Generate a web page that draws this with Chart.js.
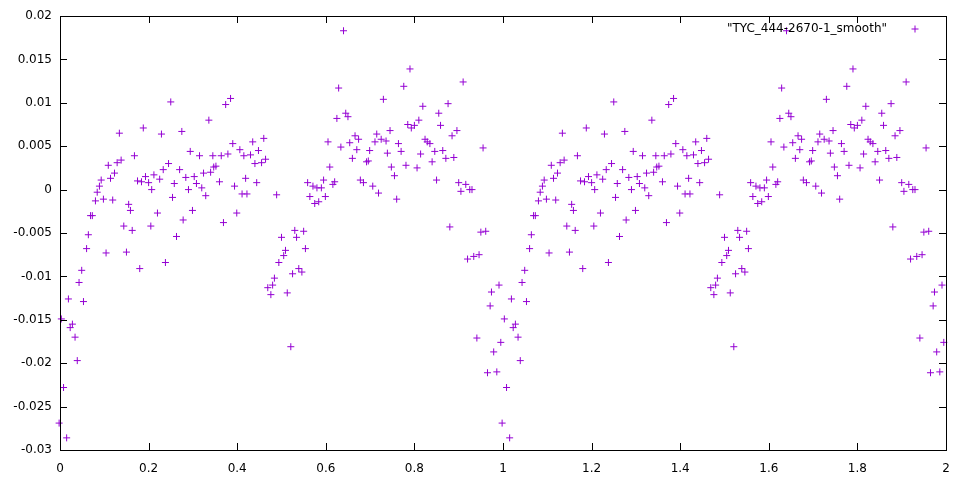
<!DOCTYPE html>
<html>
<head>
<meta charset="utf-8">
<script src="https://cdn.jsdelivr.net/npm/chart.js@4.4.1/dist/chart.umd.min.js"></script>
<style>
  body { margin: 0; background: #fff; }
</style>
</head>
<body>
<canvas id="lightCurve" width="967" height="480"></canvas>
<script>
// phase (0..1) of each observation and its smoothed value
const phases = [
  -0.002, 0.003, 0.008, 0.015, 0.019, 0.023, 0.028, 0.034, 0.039, 0.043,
  0.049, 0.053, 0.060, 0.064, 0.069, 0.073, 0.080, 0.084, 0.089, 0.093,
  0.098, 0.104, 0.109, 0.114, 0.119, 0.123, 0.129, 0.134, 0.138, 0.144,
  0.150, 0.155, 0.159, 0.163, 0.168, 0.175, 0.180, 0.184, 0.188, 0.193,
  0.200, 0.205, 0.207, 0.212, 0.220, 0.225, 0.229, 0.233, 0.238, 0.245,
  0.250, 0.254, 0.258, 0.263, 0.270, 0.275, 0.278, 0.284, 0.290, 0.294,
  0.299, 0.303, 0.308, 0.315, 0.320, 0.324, 0.329, 0.336, 0.340, 0.345,
  0.347, 0.352, 0.360, 0.364, 0.369, 0.374, 0.379, 0.385, 0.390, 0.394,
  0.399, 0.406, 0.411, 0.415, 0.419, 0.422, 0.430, 0.435, 0.440, 0.444,
  0.448, 0.455, 0.460, 0.464, 0.469, 0.476, 0.480, 0.484, 0.489, 0.494,
  0.500, 0.505, 0.509, 0.513, 0.521, 0.525, 0.530, 0.534, 0.539, 0.546,
  0.550, 0.554, 0.559, 0.564, 0.571, 0.575, 0.580, 0.584, 0.590, 0.595,
  0.599, 0.605, 0.609, 0.616, 0.620, 0.625, 0.629, 0.634, 0.640, 0.645,
  0.650, 0.654, 0.660, 0.666, 0.670, 0.674, 0.678, 0.685, 0.692, 0.696,
  0.699, 0.706, 0.711, 0.715, 0.719, 0.725, 0.730, 0.736, 0.739, 0.745,
  0.748, 0.755, 0.760, 0.764, 0.770, 0.776, 0.781, 0.785, 0.790, 0.793,
  0.800, 0.806, 0.810, 0.814, 0.819, 0.824, 0.829, 0.835, 0.840, 0.846,
  0.850, 0.855, 0.859, 0.864, 0.871, 0.876, 0.880, 0.885, 0.889, 0.896,
  0.900, 0.905, 0.910, 0.916, 0.920, 0.925, 0.930, 0.934, 0.941, 0.946,
  0.950, 0.955, 0.961, 0.965, 0.971, 0.974, 0.979, 0.986, 0.991, 0.995,
];
const smoothValues = [
  -0.0269, -0.0149, -0.0228, -0.0286, -0.0126, -0.0159, -0.0155, -0.0170, -0.0197, -0.0107,
  -0.0093, -0.0129, -0.0068, -0.0052, -0.0030, -0.0030, -0.0013, -0.0003, 0.0004, 0.0011,
  -0.0011, -0.0073, 0.0028, 0.0013, -0.0012, 0.0019, 0.0031, 0.0065, 0.0034, -0.0042,
  -0.0072, -0.0017, -0.0024, -0.0047, 0.0039, 0.0010, -0.0091, 0.0009, 0.0071, 0.0015,
  0.0008, -0.0042, 0.0000, 0.0017, -0.0027, 0.0012, 0.0064, 0.0023, -0.0084, 0.0030,
  0.0101, -0.0009, 0.0007, -0.0054, 0.0023, 0.0067, -0.0035, 0.0014, 0.0000, 0.0044,
  -0.0024, 0.0015, 0.0007, 0.0039, 0.0002, 0.0019, -0.0007, 0.0080, 0.0020, 0.0039,
  0.0026, 0.0027, 0.0009, 0.0039, -0.0038, 0.0098, 0.0041, 0.0105, 0.0053, 0.0004,
  -0.0027, 0.0046, -0.0005, 0.0039, 0.0013, -0.0005, 0.0040, 0.0055, 0.0030, 0.0008,
  0.0045, 0.0031, 0.0059, 0.0035, -0.0113, -0.0121, -0.0110, -0.0102, -0.0006, -0.0084,
  -0.0055, -0.0076, -0.0070, -0.0119, -0.0181, -0.0097, -0.0047, -0.0055, -0.0091, -0.0095,
  -0.0048, -0.0068, 0.0008, -0.0008, 0.0004, -0.0016, 0.0002, -0.0014, 0.0002, 0.0011,
  -0.0008, 0.0055, 0.0026, 0.0006, 0.0009, 0.0082, 0.0117, 0.0049, 0.0183, 0.0088,
  0.0084, 0.0054, 0.0036, 0.0062, 0.0046, 0.0058, 0.0011, 0.0008, 0.0032, 0.0033,
  0.0045, 0.0004, 0.0055, 0.0064, -0.0004, 0.0058, 0.0104, 0.0056, 0.0042, 0.0068,
  0.0026, 0.0016, -0.0011, 0.0053, 0.0044, 0.0119, 0.0028, 0.0075, 0.0139, 0.0071,
  0.0074, 0.0025, 0.0080, 0.0041, 0.0096, 0.0058, 0.0055, 0.0053, 0.0032, 0.0044,
  0.0011, 0.0088, 0.0074, 0.0045, 0.0036, 0.0099, -0.0043, 0.0062, 0.0037, 0.0068,
  0.0008, -0.0002, 0.0124, 0.0006, -0.0080, 0.0000, 0.0000, -0.0077, -0.0171, -0.0075,
  -0.0049, 0.0048, -0.0048, -0.0211, -0.0134, -0.0118, -0.0187, -0.0210, -0.0110, -0.0176,
];

const xTicks = [0, 0.2, 0.4, 0.6, 0.8, 1, 1.2, 1.4, 1.6, 1.8, 2];
const xTickLabels = ["0", "0.2", "0.4", "0.6", "0.8", "1", "1.2", "1.4", "1.6", "1.8", "2"];
const yTicks = [-0.03, -0.025, -0.02, -0.015, -0.01, -0.005, 0, 0.005, 0.01, 0.015, 0.02];
const yTickLabels = ["-0.03", "-0.025", "-0.02", "-0.015", "-0.01", "-0.005", "0", "0.005", "0.01", "0.015", "0.02"];
const seriesName = '"TYC_444-2670-1_smooth"';

const purple = "#9400d3";

// the folded curve is plotted twice (phase and phase + 1)
const points = [];
phases.forEach((p, i) => points.push({ x: p, y: smoothValues[i] }));
phases.forEach((p, i) => points.push({ x: p + 1, y: smoothValues[i] }));

// border, inward ticks on all four sides and the gnuplot-like key
const framePlugin = {
  id: "frame",
  afterDraw(chart) {
    const ctx = chart.ctx;
    const a = chart.chartArea;
    const xs = chart.scales.x;
    const ys = chart.scales.y;
    const t = 7;
    ctx.save();
    ctx.strokeStyle = "#000";
    ctx.lineWidth = 1;
    ctx.beginPath();
    xTicks.forEach((v) => {
      const px = Math.round(xs.getPixelForValue(v)) + 0.5;
      ctx.moveTo(px, a.bottom);
      ctx.lineTo(px, a.bottom - t);
      ctx.moveTo(px, a.top);
      ctx.lineTo(px, a.top + t);
    });
    yTicks.forEach((v) => {
      const py = Math.round(ys.getPixelForValue(v)) + 0.5;
      ctx.moveTo(a.left, py);
      ctx.lineTo(a.left + t, py);
      ctx.moveTo(a.right, py);
      ctx.lineTo(a.right - t, py);
    });
    ctx.stroke();
    ctx.strokeRect(a.left + 0.5, a.top + 0.5, a.right - a.left, a.bottom - a.top);

    // key
    ctx.font = "12px 'DejaVu Sans'";
    ctx.fillStyle = "#000";
    ctx.textAlign = "right";
    ctx.textBaseline = "middle";
    ctx.fillText(seriesName, 887, 29);
    ctx.strokeStyle = purple;
    ctx.beginPath();
    ctx.moveTo(911.5, 29);
    ctx.lineTo(918.5, 29);
    ctx.moveTo(915, 25.5);
    ctx.lineTo(915, 32.5);
    ctx.stroke();
    ctx.restore();
  },
};

Chart.defaults.font.family = "'DejaVu Sans'";
Chart.defaults.font.size = 12;
Chart.defaults.color = "#000";

const ctx = document.getElementById("lightCurve").getContext("2d");
new Chart(ctx, {
  type: "scatter",
  data: {
    datasets: [
      {
        label: seriesName,
        data: points,
        pointStyle: "cross",
        pointRadius: 3.5,
        pointBorderWidth: 1,
        borderColor: purple,
        backgroundColor: purple,
        clip: false,
      },
    ],
  },
  options: {
    responsive: false,
    animation: false,
    devicePixelRatio: 1,
    events: [],
    layout: { padding: { top: 16, right: 21, left: 0, bottom: 0 } },
    plugins: {
      legend: { display: false },
      tooltip: { enabled: false },
    },
    scales: {
      x: {
        type: "linear",
        min: 0,
        max: 2,
        grid: { display: false },
        border: { display: false },
        afterBuildTicks: (s) => { s.ticks = xTicks.map((v) => ({ value: v })); },
        afterFit: (s) => { s.height = 30; },
        ticks: {
          padding: 4,
          maxRotation: 0,
          callback: (v, i) => xTickLabels[i],
        },
      },
      y: {
        type: "linear",
        min: -0.03,
        max: 0.02,
        grid: { display: false },
        border: { display: false },
        afterBuildTicks: (s) => { s.ticks = yTicks.map((v) => ({ value: v })); },
        afterFit: (s) => { s.width = 60; },
        ticks: {
          padding: 0,
          callback: (v, i) => yTickLabels[i],
        },
      },
    },
  },
  plugins: [framePlugin],
});
</script>
</body>
</html>
